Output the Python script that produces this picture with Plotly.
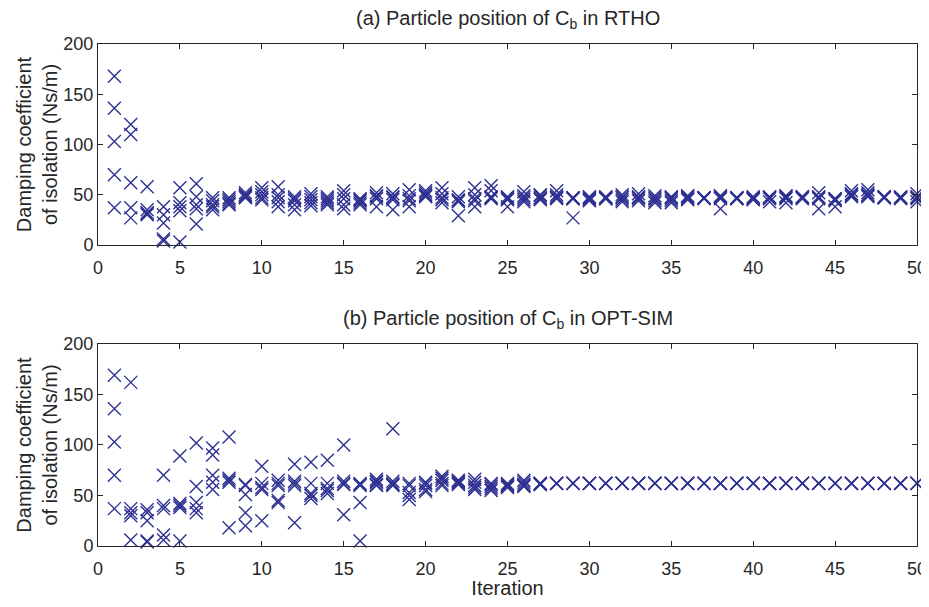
import plotly.graph_objects as go
from plotly.subplots import make_subplots

# Iterations (x axis)
iterations = list(range(1, 51))

# RTHO - 5 particles, value per iteration (Ns/m)
rtho_p1 = [168, 120, 58, 38, 57, 61, 47, 47, 52, 57, 58, 48, 51, 48, 54, 46, 52, 51, 55, 54, 57, 48, 57, 59, 48,
           53, 50, 54, 47, 48, 47, 50, 51, 49, 48, 49, 47, 49, 47, 48, 48, 49, 48, 52, 46, 54, 55, 48, 47, 51]
rtho_p2 = [136, 110, 35, 22, 42, 48, 44, 45, 50, 53, 50, 46, 48, 46, 50, 44, 49, 48, 49, 52, 51, 45, 50, 54, 46,
           49, 49, 50, 46, 46, 47, 47, 48, 47, 46, 48, 47, 47, 47, 46, 47, 47, 47, 48, 45, 51, 52, 47, 47, 48]
rtho_p3 = [103, 62, 32, 6, 38, 40, 40, 43, 49, 50, 47, 44, 45, 44, 46, 42, 46, 45, 44, 50, 47, 44, 44, 47, 45,
           47, 47, 48, 46, 45, 46, 45, 46, 44, 44, 47, 47, 46, 46, 45, 46, 46, 47, 46, 44, 49, 49, 47, 46, 46]
rtho_p4 = [70, 37, 30, 4, 34, 36, 38, 41, 48, 47, 43, 40, 42, 42, 40, 40, 38, 35, 38, 49, 42, 43, 38, 46, 47,
           45, 46, 47, 47, 47, 48, 43, 44, 42, 42, 46, 46, 36, 47, 47, 43, 42, 46, 36, 38, 48, 48, 48, 48, 43]
rtho_p5 = [37, 27, 31, 30, 3, 21, 35, 40, 47, 45, 38, 35, 39, 40, 36, 45, 48, 47, 46, 48, 45, 29, 46, 48, 38,
           43, 45, 46, 27, 44, 46, 48, 47, 46, 47, 45, 47, 48, 46, 46, 47, 48, 48, 47, 46, 50, 50, 47, 47, 47]

# OPT-SIM - 5 particles
opt_p1 = [169, 162, 36, 70, 89, 102, 97, 108, 61, 79, 65, 81, 83, 85, 100, 62, 66, 116, 62, 63, 69, 65, 66, 61, 62,
          65, 62, 62, 62, 62, 62, 62, 62, 62, 62, 62, 62, 62, 62, 62, 62, 62, 62, 62, 62, 62, 62, 62, 62, 62]
opt_p2 = [136, 37, 33, 40, 42, 59, 90, 67, 60, 62, 62, 64, 62, 62, 64, 60, 63, 64, 60, 62, 67, 64, 63, 59, 61,
          63, 62, 62, 62, 62, 62, 62, 62, 62, 62, 62, 62, 62, 62, 62, 62, 62, 62, 62, 62, 62, 62, 62, 62, 62]
opt_p3 = [103, 33, 25, 37, 40, 43, 70, 65, 51, 58, 60, 62, 52, 57, 62, 43, 61, 62, 53, 60, 65, 63, 60, 57, 60,
          61, 62, 62, 62, 62, 62, 62, 62, 62, 62, 62, 62, 62, 62, 62, 62, 62, 62, 62, 62, 62, 62, 62, 62, 62]
opt_p4 = [70, 30, 5, 11, 38, 37, 63, 63, 33, 56, 45, 60, 50, 55, 61, 5, 60, 60, 50, 56, 62, 62, 58, 55, 59,
          60, 61, 62, 62, 62, 62, 62, 62, 62, 62, 62, 62, 62, 62, 62, 62, 62, 62, 62, 62, 62, 62, 62, 62, 62]
opt_p5 = [37, 6, 4, 6, 5, 33, 56, 18, 20, 25, 43, 23, 47, 52, 31, 61, 64, 61, 46, 54, 60, 61, 56, 62, 58,
          59, 61, 62, 62, 62, 62, 62, 62, 62, 62, 62, 62, 62, 62, 62, 62, 62, 62, 62, 62, 62, 62, 62, 62, 62]

x_ticks = [0, 5, 10, 15, 20, 25, 30, 35, 40, 45, 50]
y_ticks = [0, 50, 100, 150, 200]

COLOR = '#2e3192'
AXIS = '#262626'
FONT = 'Liberation Sans, Arial, sans-serif'

fig = make_subplots(rows=2, cols=1)

for row, series in [(1, [rtho_p1, rtho_p2, rtho_p3, rtho_p4, rtho_p5]),
                    (2, [opt_p1, opt_p2, opt_p3, opt_p4, opt_p5])]:
    for p in series:
        fig.add_trace(go.Scatter(
            x=iterations, y=p, mode='markers', showlegend=False, cliponaxis=False,
            marker=dict(symbol='x-thin', size=13, color=COLOR,
                        line=dict(width=1.4, color=COLOR))
        ), row=row, col=1)

axis_common = dict(showline=True, linecolor=AXIS, linewidth=1, mirror='allticks',
                   ticks='inside', ticklen=5, tickcolor=AXIS, showgrid=False, zeroline=False,
                   automargin=False, tickfont=dict(size=18, color=AXIS, family=FONT))

fig.update_xaxes(range=[0, 50], tickvals=x_ticks, ticklabeloverflow='allow',
                 ticklabelstandoff=6, **axis_common)
fig.update_yaxes(range=[0, 200], tickvals=y_ticks, **axis_common)

ytitle = dict(text='Damping coefficient<br>of isolation (Ns/m)', standoff=0,
              font=dict(size=20, color=AXIS, family=FONT))

# the page body adds an 8px margin on each side, so the figure is sized 16px smaller
fig.update_layout(
    xaxis=dict(domain=[0, 1]),
    yaxis=dict(domain=[0.5996, 1.0], title=ytitle),
    xaxis2=dict(domain=[0, 1],
                title=dict(text='Iteration', standoff=7, font=dict(size=20, color=AXIS, family=FONT))),
    yaxis2=dict(domain=[0.0, 0.4024], title=ytitle),
    width=913, height=591,
    margin=dict(l=90, r=4, t=36, b=53),
    plot_bgcolor='white', paper_bgcolor='white',
    font=dict(family=FONT, color=AXIS),
    annotations=[
        dict(text='(a) Particle position of C<sub>b</sub> in RTHO', x=0.5, y=1.048,
             xref='paper', yref='paper', xanchor='center', yanchor='middle', showarrow=False,
             font=dict(size=20, color=AXIS, family=FONT)),
        dict(text='(b) Particle position of C<sub>b</sub> in OPT-SIM', x=0.5, y=0.452,
             xref='paper', yref='paper', xanchor='center', yanchor='middle', showarrow=False,
             font=dict(size=20, color=AXIS, family=FONT)),
    ]
)

fig.write_html("out.html")
